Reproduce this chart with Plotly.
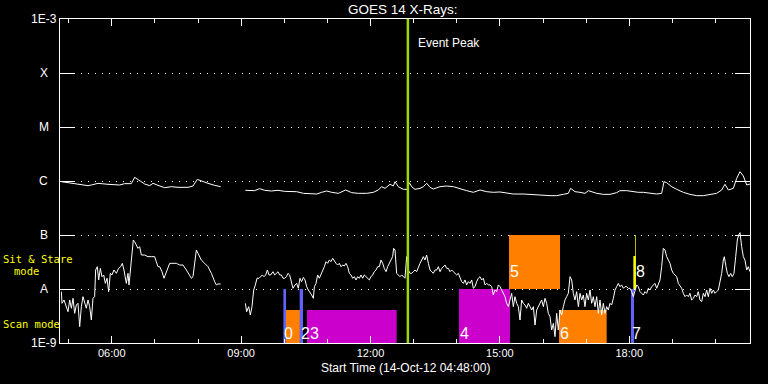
import math
import pandas as pd
import plotly.graph_objects as go

# ---------------- data ----------------
START = pd.Timestamp("2012-10-14 04:48:00")
END = pd.Timestamp("2012-10-14 20:48:00")
EVENT_PEAK_MIN = 484.0  # minutes after start (~12:52)

# GOES long channel (1-8 A), minutes after start / flux W m^-2
long_t1 = [1.8, 20.4, 39.0, 43.6, 52.9, 66.8, 83.0, 90.0, 99.2, 103.9, 110.9, 117.8, 124.8, 129.4,
           136.3, 145.7, 154.9, 164.2, 178.1, 185.0, 191.0, 196.6, 205.9, 215.2, 223.5]
long_f1 = [9.72e-7, 8.80e-7, 8.19e-7, 8.43e-7, 9.05e-7, 8.68e-7, 8.43e-7, 8.93e-7, 8.93e-7, 1.17e-6,
           1.0e-6, 8.80e-7, 8.19e-7, 9.05e-7, 8.31e-7, 7.52e-7, 7.85e-7, 7.63e-7, 7.63e-7, 8.08e-7,
           1.07e-6, 1.0e-6, 9.05e-7, 8.31e-7, 7.85e-7]
long_t2 = [257.9, 270.8, 277.8, 284.8, 294.0, 303.3, 312.6, 324.2, 329.3, 338.6, 347.8, 357.1, 364.1,
           371.0, 378.0, 387.3, 397.5, 405.8, 415.1, 426.7, 436.0, 442.9, 447.5, 452.2, 459.1, 463.8,
           466.1, 470.7, 477.7, 483.3, 486.0, 489.3, 493.9, 500.9, 505.5, 510.2, 514.8, 519.4, 528.7,
           538.0, 547.3, 556.5, 565.8, 575.1, 584.3, 593.7, 602.9, 612.2, 621.5, 630.7, 644.6, 649.3,
           658.5, 667.8, 681.7, 691.0, 700.3, 707.2, 710.5, 716.5, 723.5, 730.4, 735.1, 739.7, 746.7,
           755.9, 765.2, 774.5, 779.1, 788.4, 797.7, 804.6, 811.6, 820.9, 830.2, 837.1, 840.3, 844.1,
           851.0, 858.0, 867.2, 876.5, 885.8, 895.1, 904.3, 913.6, 920.6, 925.2, 929.9, 936.8, 941.5,
           946.1, 950.7, 955.4, 960.0]
long_f2 = [6.72e-7, 6.62e-7, 7.21e-7, 6.72e-7, 6.53e-7, 6.72e-7, 6.43e-7, 6.43e-7, 6.34e-7, 5.91e-7,
           5.74e-7, 5.74e-7, 6.17e-7, 6.53e-7, 6.17e-7, 5.91e-7, 6.81e-7, 6.08e-7, 5.91e-7, 5.91e-7,
           6.17e-7, 6.81e-7, 7.85e-7, 7.31e-7, 8.68e-7, 8.08e-7, 9.72e-7, 7.85e-7, 7.01e-7, 7.01e-7,
           9.31e-7, 7.85e-7, 7.01e-7, 7.31e-7, 7.85e-7, 9.05e-7, 7.63e-7, 7.11e-7, 7.85e-7, 8.08e-7,
           7.85e-7, 7.11e-7, 6.62e-7, 6.17e-7, 6.81e-7, 6.34e-7, 6.17e-7, 6.26e-7, 5.91e-7, 5.74e-7,
           5.74e-7, 5.66e-7, 5.66e-7, 5.50e-7, 5.35e-7, 5.35e-7, 5.66e-7, 5.91e-7, 7.31e-7, 6.34e-7,
           6.17e-7, 5.91e-7, 6.62e-7, 6.34e-7, 5.91e-7, 5.66e-7, 5.66e-7, 6.08e-7, 6.62e-7, 6.62e-7,
           6.34e-7, 6.17e-7, 6.17e-7, 5.91e-7, 5.74e-7, 5.91e-7, 9.72e-7, 9.31e-7, 7.85e-7, 7.01e-7,
           6.17e-7, 5.66e-7, 5.35e-7, 5.35e-7, 5.66e-7, 5.91e-7, 6.81e-7, 8.68e-7, 6.81e-7, 7.31e-7,
           1.12e-6, 1.49e-6, 1.24e-6, 8.43e-7, 8.80e-7]

# GOES short channel (0.5-4 A)
short_t1 = [1.9, 2.8, 5.6, 8.8, 11.1, 13.5, 15.8, 18.1, 20.4, 22.7, 25.0, 27.4, 29.7, 32.0, 34.3,
            36.6, 39.0, 41.3, 43.6, 45.9, 48.2, 49.6, 51.9, 53.8, 56.1, 58.4, 60.8, 63.1, 65.4, 67.7,
            70.0, 72.3, 75.1, 78.4, 81.6, 84.4, 86.7, 89.0, 92.3, 94.6, 96.0, 98.3, 100.2, 102.0, 103.9,
            106.2, 108.5, 110.8, 113.2, 117.8, 122.4, 127.1, 131.7, 134.0, 136.3, 138.7, 141.9, 144.7,
            147.0, 150.3, 152.6, 157.2, 161.9, 166.5, 171.1, 175.8, 180.4, 182.7, 185.0, 187.4, 189.7,
            192.0, 194.3, 196.6, 201.3, 205.9, 210.6, 212.9, 215.2, 217.5, 219.8, 223.5]
short_f1 = [8.92e-9, 5.43e-9, 6.26e-9, 4.71e-9, 3.80e-9, 6.26e-9, 4.39e-9, 6.72e-9, 3.54e-9, 5.06e-9,
            5.43e-9, 2.01e-9, 4.71e-9, 7.21e-9, 5.43e-9, 4.39e-9, 6.26e-9, 4.71e-9, 2.67e-9, 6.72e-9,
            7.21e-9, 2.25e-8, 2.59e-8, 1.47e-8, 2.41e-8, 1.69e-8, 1.82e-8, 1.27e-8, 1.58e-8, 8.92e-9,
            1.95e-8, 1.82e-8, 2.25e-8, 1.95e-8, 2.41e-8, 2.59e-8, 2.99e-8, 2.25e-8, 1.27e-8, 1.95e-8,
            1.19e-8, 2.59e-8, 5.27e-8, 8.08e-8, 7.52e-8, 6.53e-8, 5.66e-8, 6.08e-8, 4.26e-8, 4.26e-8,
            3.97e-8, 3.97e-8, 3.97e-8, 3.21e-8, 2.59e-8, 2.59e-8, 2.09e-8, 1.58e-8, 1.95e-8, 2.59e-8,
            2.99e-8, 2.99e-8, 2.99e-8, 2.78e-8, 2.78e-8, 2.25e-8, 1.82e-8, 1.58e-8, 1.69e-8, 3.44e-8,
            5.27e-8, 4.58e-8, 3.97e-8, 3.44e-8, 2.99e-8, 2.59e-8, 1.95e-8, 1.58e-8, 1.37e-8, 1.19e-8,
            1.24e-8, 1.24e-8]
short_t2 = [257.9, 259.7, 262.5, 264.8, 267.1, 269.5, 271.8, 274.1, 276.9, 279.2, 281.5, 283.8, 286.1,
            288.5, 290.8, 293.1, 296.3, 298.7, 301.0, 303.3, 305.6, 307.9, 310.3, 312.6, 314.9, 317.2,
            319.5, 321.9, 324.2]
short_f2 = [5.43e-9, 3.80e-9, 4.71e-9, 3.30e-9, 4.71e-9, 9.58e-9, 1.19e-8, 1.58e-8, 1.58e-8, 1.69e-8,
            1.82e-8, 1.69e-8, 1.82e-8, 2.25e-8, 1.82e-8, 1.82e-8, 2.09e-8, 1.82e-8, 1.95e-8, 2.09e-8,
            1.82e-8, 1.82e-8, 1.58e-8, 1.58e-8, 1.69e-8, 1.95e-8, 1.82e-8, 1.27e-8, 1.03e-8]
short_t3 = [327.0, 329.3, 331.6, 333.9, 336.2, 338.6, 340.9, 343.2, 345.5, 347.8,
            350.1, 352.5, 353.9, 356.2, 358.5, 360.8, 363.1, 365.4, 367.8, 370.1,
            372.4, 374.7, 377.0, 379.4, 381.7, 384.0, 386.3, 388.6, 391.0, 393.3,
            395.6, 397.9, 400.2, 402.6, 404.9, 407.2, 409.5, 411.8, 414.1, 416.5,
            418.8, 421.1, 423.4, 425.7, 428.1, 430.4, 432.7, 435.0, 437.3, 439.7,
            442.0, 444.3, 446.6, 448.9, 451.2, 453.6, 455.9, 458.2, 460.5, 462.8,
            464.2, 466.1, 468.4, 470.7, 473.0, 475.4, 477.7, 480.0, 482.3, 484.6,
            487.0, 489.3, 491.6, 493.9, 496.2, 498.5, 500.9, 503.2, 505.5, 507.8,
            510.1, 512.5, 514.8, 517.1, 519.4, 521.7, 524.1, 526.4, 528.7, 531.0,
            533.3, 535.7, 538.0, 540.3, 542.6, 544.9, 547.2, 549.6, 551.9, 554.2,
            556.5, 558.8, 561.2, 563.5, 565.8, 568.1, 570.4, 572.8, 575.1, 577.4,
            579.7, 582.0, 584.3, 586.7, 589.0, 591.3, 593.6, 595.9, 598.3, 600.6,
            602.9, 605.2, 607.5, 609.9, 612.2, 614.5, 616.8, 619.1, 621.5, 623.8,
            626.1, 628.4, 630.7, 633.0, 635.4, 637.7, 640.0, 642.3, 644.6, 647.0]
short_f3 = [1.19e-8, 1.27e-8, 1.03e-8, 1.58e-8, 1.37e-8, 1.64e-8, 1.47e-8, 1.105e-8, 9.58e-9, 8.31e-9,
            7.74e-9, 6.72e-9, 1.105e-8, 1.27e-8, 1.82e-8, 1.58e-8, 1.82e-8, 2.09e-8, 2.59e-8, 3.21e-8,
            2.99e-8, 3.44e-8, 3.21e-8, 3.70e-8, 3.21e-8, 2.99e-8, 2.78e-8, 2.99e-8, 2.59e-8, 2.78e-8,
            2.67e-8, 2.99e-8, 2.59e-8, 1.95e-8, 1.82e-8, 1.58e-8, 1.69e-8, 1.47e-8, 1.69e-8, 1.58e-8,
            1.82e-8, 1.58e-8, 1.82e-8, 1.69e-8, 1.58e-8, 1.47e-8, 1.69e-8, 1.82e-8, 2.09e-8, 2.25e-8,
            2.59e-8, 2.59e-8, 3.44e-8, 2.99e-8, 2.41e-8, 2.09e-8, 2.59e-8, 2.99e-8, 3.44e-8, 3.97e-8,
            5.66e-8, 5.27e-8, 1.95e-8, 1.82e-8, 1.69e-8, 1.82e-8, 1.69e-8, 1.58e-8, 3.97e-8, 2.25e-8,
            1.95e-8, 1.95e-8, 2.09e-8, 2.25e-8, 2.09e-8, 2.59e-8, 2.99e-8, 3.44e-8, 3.97e-8, 3.44e-8,
            4.26e-8, 2.99e-8, 2.25e-8, 2.09e-8, 1.95e-8, 2.25e-8, 2.25e-8, 2.59e-8, 2.09e-8, 2.41e-8,
            2.59e-8, 2.78e-8, 2.41e-8, 2.41e-8, 2.09e-8, 2.25e-8, 2.09e-8, 1.95e-8, 1.82e-8, 1.95e-8,
            1.58e-8, 1.37e-8, 1.27e-8, 1.47e-8, 1.19e-8, 1.37e-8, 1.27e-8, 1.47e-8, 1.03e-8, 1.105e-8,
            1.37e-8, 1.58e-8, 1.69e-8, 1.47e-8, 1.58e-8, 1.19e-8, 1.27e-8, 1.19e-8, 1.19e-8, 1.105e-8,
            7.74e-9, 9.58e-9, 8.92e-9, 1.19e-8, 1.105e-8, 9.58e-9, 8.31e-9, 7.21e-9, 5.43e-9, 4.71e-9,
            6.26e-9, 8.31e-9, 4.71e-9, 7.21e-9, 5.43e-9, 4.71e-9, 2.67e-9, 6.26e-9, 5.43e-9, 5.06e-9]
short_t4 = [649.3, 651.6, 653.9, 656.2, 658.6, 660.9, 663.2, 665.5, 667.8, 670.1,
            672.5, 674.8, 677.1, 679.4, 681.7, 684.1, 686.4, 688.7, 691.0, 693.3,
            695.7, 698.0, 700.3, 702.6, 704.9, 707.2, 709.6, 711.9, 714.2, 716.5,
            718.8, 721.2, 723.5, 725.8, 728.1, 730.4, 732.7, 735.1, 737.4, 739.7,
            742.0, 744.3, 746.7, 749.0, 751.3, 753.6, 755.9, 758.3, 760.6, 762.9,
            765.2, 767.5, 769.9, 772.2, 774.5, 776.8, 779.1, 781.4, 783.8, 786.1,
            788.4, 790.7, 793.0, 795.4, 797.7, 800.0, 802.3, 804.6, 807.0, 809.3,
            811.6, 813.9, 816.2, 818.6, 820.9, 823.2, 825.5, 827.8, 830.2, 832.5,
            834.8, 837.1, 839.4, 841.7, 844.1, 846.4, 848.7, 851.0, 853.3, 855.7,
            858.0, 860.3, 862.6, 864.9, 867.2, 869.6, 871.9, 874.2, 876.5, 878.8,
            881.2, 883.5, 885.8, 888.1, 890.4, 892.8, 895.1, 897.4, 899.7, 902.0,
            904.3, 906.7, 909.0, 911.3, 913.6, 915.9, 918.3, 920.6, 922.9, 924.3,
            926.6, 928.5, 930.8, 933.1, 935.4, 937.7, 940.1, 942.4, 944.2, 946.1,
            948.4, 950.7, 953.0, 955.4, 957.7, 960.0]
short_f4 = [4.39e-9, 5.43e-9, 4.71e-9, 4.08e-9, 4.71e-9, 2.15e-9, 4.08e-9, 4.71e-9, 5.43e-9, 6.26e-9,
            4.71e-9, 6.72e-9, 5.43e-9, 3.54e-9, 3.07e-9, 1.74e-9, 2.31e-9, 1.31e-9, 3.54e-9, 1.74e-9,
            4.08e-9, 3.30e-9, 4.71e-9, 6.26e-9, 7.21e-9, 8.31e-9, 1.69e-8, 1.47e-8, 8.31e-9, 6.26e-9,
            8.92e-9, 4.71e-9, 8.31e-9, 6.26e-9, 7.74e-9, 4.71e-9, 8.31e-9, 6.26e-9, 9.58e-9, 5.43e-9,
            7.21e-9, 4.71e-9, 7.21e-9, 3.54e-9, 6.26e-9, 3.30e-9, 5.43e-9, 3.54e-9, 4.71e-9, 4.08e-9,
            5.43e-9, 5.06e-9, 6.72e-9, 9.58e-9, 1.105e-8, 1.27e-8, 1.105e-8, 1.19e-8, 1.03e-8, 1.105e-8,
            1.105e-8, 1.03e-8, 1.03e-8, 8.92e-9, 7.21e-9, 9.58e-9, 1.19e-8, 1.105e-8, 8.92e-9, 8.31e-9,
            7.74e-9, 8.92e-9, 8.31e-9, 1.03e-8, 9.58e-9, 1.105e-8, 1.19e-8, 1.27e-8, 1.03e-8, 1.19e-8,
            1.47e-8, 2.59e-8, 5.66e-8, 5.27e-8, 3.97e-8, 3.44e-8, 2.99e-8, 2.25e-8, 1.95e-8, 1.82e-8,
            1.69e-8, 1.27e-8, 1.105e-8, 1.03e-8, 8.31e-9, 7.21e-9, 7.74e-9, 7.21e-9, 8.31e-9, 6.26e-9,
            6.72e-9, 7.74e-9, 7.21e-9, 8.92e-9, 6.26e-9, 5.83e-9, 8.31e-9, 7.21e-9, 9.58e-9, 7.21e-9,
            1.03e-8, 8.31e-9, 9.58e-9, 8.31e-9, 8.92e-9, 9.58e-9, 1.37e-8, 1.95e-8, 3.44e-8, 3.97e-8,
            2.59e-8, 1.95e-8, 1.69e-8, 1.95e-8, 1.69e-8, 1.95e-8, 3.97e-8, 8.08e-8, 1.0e-7, 1.105e-7,
            6.08e-8, 3.97e-8, 3.44e-8, 2.25e-8, 2.59e-8, 2.09e-8]

# IRIS observation blocks: start/end (min after start), flux range, colour
obs_start = [310.8, 314.4, 333.5, 343.6, 555.1, 624.7, 694.3, 794.4, 797.7, 800.2]
obs_end = [314.5, 333.9, 338.1, 468.4, 626.1, 695.7, 760.6, 798.6, 801.0, 801.2]
obs_low = [1e-9, 1e-9, 1e-9, 1e-9, 1e-9, 1e-8, 1e-9, 1e-9, 1e-8, 1e-8]
obs_high = [1e-8, 4.08e-9, 1e-8, 4.08e-9, 1e-8, 1e-7, 4.08e-9, 1e-8, 4.08e-8, 1e-7]
obs_color = ["#6262ff", "#ff7f00", "#6262ff", "#cc00cc", "#cc00cc", "#ff7f00", "#ff7f00",
             "#6262ff", "#ffff00", "#ffff00"]

label_text = ["0", "23", "4", "5", "6", "7", "8"]
label_min = [310.8, 333.5, 555.1, 624.7, 694.3, 794.4, 800.0]
label_flux = [1.53e-9, 1.53e-9, 1.53e-9, 2.07e-8, 1.53e-9, 1.53e-9, 2.07e-8]

ytick_vals = [1e-3, 1e-4, 1e-5, 1e-6, 1e-7, 1e-8, 1e-9]
ytick_text = ["1E-3", "X", "M", "C", "B", "A", "1E-9"]


def tt(mins):
    return START + pd.to_timedelta(mins, unit="min")


FONT = "Liberation Sans"
fig = go.Figure()

for s, e, lo, hi, c in zip(obs_start, obs_end, obs_low, obs_high, obs_color):
    fig.add_trace(go.Scatter(
        x=tt([s, e, e, s, s]), y=[lo, lo, hi, hi, lo], mode="lines", fill="toself",
        fillcolor=c, line=dict(width=0, color=c), hoverinfo="skip", showlegend=False))

for t, f in [(long_t1, long_f1), (long_t2, long_f2), (short_t1, short_f1),
             (short_t2 + short_t3 + short_t4, short_f2 + short_f3 + short_f4)]:
    fig.add_trace(go.Scatter(x=tt(t), y=f, mode="lines",
                             line=dict(color="white", width=1), showlegend=False,
                             hoverinfo="skip"))

ev = tt([EVENT_PEAK_MIN])[0]
fig.add_shape(type="line", xref="x", yref="paper", x0=ev, x1=ev, y0=0, y1=1,
              line=dict(color="#9ed600", width=2.5), layer="above")

ann = []
ann.append(dict(text="Event Peak", x=ev, xref="x", y=0.926, yref="paper", xanchor="left",
                yanchor="middle", xshift=8, showarrow=False,
                font=dict(family=FONT, size=12, color="white")))
ann.append(dict(text="GOES 14 X-Rays:", x=0.4965, xref="paper", y=1.0293, yref="paper",
                xanchor="center", yanchor="middle", showarrow=False,
                font=dict(family=FONT, size=13.5, color="white")))
ann.append(dict(text="Start Time (14-Oct-12 04:48:00)", x=0.5, xref="paper", y=-0.0772,
                yref="paper", xanchor="center", yanchor="middle", showarrow=False,
                font=dict(family=FONT, size=12, color="white")))
for v, txt in zip(ytick_vals, ytick_text):
    ann.append(dict(text=txt, x=-0.0232, xref="paper", y=math.log10(v), yref="y",
                    xanchor="center", yanchor="middle", showarrow=False,
                    font=dict(family=FONT, size=12, color="white")))
for txt, xp, yp in [("Sit & Stare", -0.0841, 0.2593), ("mode", -0.0681, 0.2222),
                    ("Scan mode", -0.0841, 0.0586)]:
    ann.append(dict(text=txt, x=xp, xref="paper", y=yp, yref="paper", xanchor="left",
                    yanchor="middle", showarrow=False, borderpad=0,
                    font=dict(family="DejaVu Sans Mono", size=10.5, color="#ffff00")))
for txt, m, f in zip(label_text, label_min, label_flux):
    ann.append(dict(text=txt, x=tt([m])[0], xref="x", y=math.log10(f), yref="y",
                    xanchor="left", yanchor="middle", showarrow=False, borderpad=0,
                    font=dict(family=FONT, size=16, color="white")))

fig.update_layout(
    width=768, height=384,
    margin=dict(l=60, r=18, t=19, b=41),
    paper_bgcolor="black", plot_bgcolor="black",
    font=dict(family=FONT, color="white", size=11),
    annotations=ann, showlegend=False,
    xaxis=dict(type="date", range=[START, END], tick0="2012-10-14 00:00:00",
               dtick=3 * 3600 * 1000, tickformat="%H:%M", ticks="inside", ticklen=7,
               tickcolor="white", tickwidth=1, showline=True, linecolor="white",
               linewidth=1, mirror="ticks", showgrid=False, zeroline=False,
               tickfont=dict(family=FONT, size=11, color="white"),
               minor=dict(dtick=3600 * 1000, ticks="inside", ticklen=4,
                          tickcolor="white", showgrid=False)),
    yaxis=dict(type="log", range=[-9, -3], tickvals=ytick_vals, showticklabels=False,
               ticks="inside", ticklen=15, tickcolor="white", tickwidth=1,
               showline=True, linecolor="white", linewidth=1, mirror="ticks",
               showgrid=True, gridcolor="white", gridwidth=1, griddash="1px,6px",
               zeroline=False),
)

fig.write_html("out.html", config={"displayModeBar": False},
               post_script="document.body.style.margin='0';document.body.style.background='black';")
